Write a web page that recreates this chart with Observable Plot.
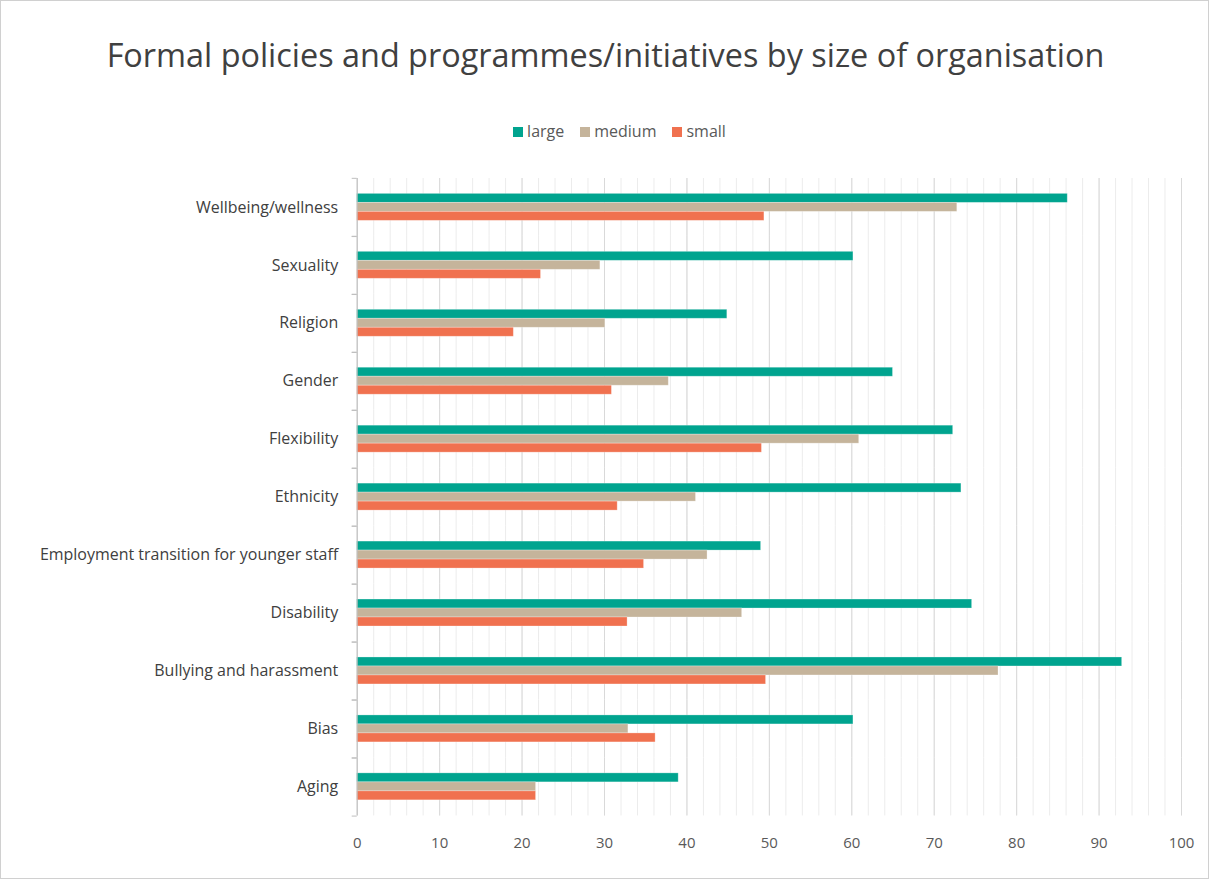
<!DOCTYPE html>
<html>
<head>
<meta charset="utf-8">
<script src="https://cdn.jsdelivr.net/npm/d3@7"></script>
<script src="https://cdn.jsdelivr.net/npm/@observablehq/plot@0.6"></script>
<style>
  html, body { margin: 0; padding: 0; background: #fff; }
  #wrap { position: relative; width: 1207px; height: 877px; border: 1px solid #d0d0d0; overflow: hidden; font-family: "Open Sans", sans-serif; }
  #title { position: absolute; left: 0; width: 1209px; top: 31px; text-align: center; font-size: 32.4px; line-height: 44px; color: #404040; }
  #legend { position: absolute; left: 14px; width: 1209px; top: 119px; text-align: center; font-size: 16px; line-height: 22px; color: #595959; }
  #legend span.item { margin: 0 8px; }
  #legend span.sw { display: inline-block; width: 10px; height: 10px; margin-right: 4px; vertical-align: 0px; }
  #chart { position: absolute; left: -1px; top: 159px; }
</style>
</head>
<body>
<div id="wrap">
  <div id="title">Formal policies and programmes/initiatives by size of organisation</div>
  <div id="legend"></div>
  <div id="chart"></div>
</div>
<script>
const categories = ["Wellbeing/wellness", "Sexuality", "Religion", "Gender", "Flexibility", "Ethnicity",
  "Employment transition for younger staff", "Disability", "Bullying and harassment", "Bias", "Aging"];
const seriesNames = ["large", "medium", "small"];
const seriesColors = ["#00a48f", "#c5b49b", "#f0714f"];
const largeValues  = [86.2, 60.2, 44.9, 65.0, 72.3, 73.3, 49.0, 74.6, 92.8, 60.2, 39.0];
const mediumValues = [72.8, 29.5, 30.1, 37.8, 60.9, 41.1, 42.5, 46.7, 77.8, 32.9, 21.7];
const smallValues  = [49.4, 22.3, 19.0, 30.9, 49.1, 31.6, 34.8, 32.8, 49.6, 36.2, 21.7];
const xTicks = [0, 10, 20, 30, 40, 50, 60, 70, 80, 90, 100];

const seriesValues = [largeValues, mediumValues, smallValues];
const data = [];
categories.forEach((c, i) => seriesNames.forEach((s, j) => data.push({category: c, size: s, value: seriesValues[j][i]})));

// legend
const legend = document.getElementById("legend");
seriesNames.forEach((s, j) => {
  const item = document.createElement("span");
  item.className = "item";
  item.innerHTML = `<span class="sw" style="background:${seriesColors[j]}"></span>${s}`;
  legend.appendChild(item);
});

const width = 1209, height = 720;
const marginTop = 16.6, marginBottom = 62.3, marginLeft = 357, marginRight = 27;
const step = (height - marginTop - marginBottom) / categories.length;

const chart = Plot.plot({
  width, height, marginTop, marginBottom, marginLeft, marginRight,
  style: {fontFamily: "Open Sans, sans-serif", color: "#595959", background: "transparent"},
  x: {domain: [0, 100], axis: null},
  fy: {domain: categories, padding: 0, axis: null},
  y: {domain: seriesNames, paddingInner: 0, paddingOuter: 1.42, axis: null},
  color: {domain: seriesNames, range: seriesColors},
  marks: [
    Plot.gridX(d3.range(0, 101, 2), {stroke: "#ececec", strokeOpacity: 1}),
    Plot.gridX(xTicks, {stroke: "#d9d9d9", strokeOpacity: 1}),
    Plot.barX(data, {fy: "category", y: "size", x: "value", fill: "size", stroke: "#ffffff", strokeOpacity: 0.35, strokeWidth: 0.8}),
    Plot.ruleX([0], {stroke: "#bfbfbf"}),
    Plot.axisFy({anchor: "left", tickSize: 5, stroke: "#bfbfbf", tickFormat: () => "", dy: step / 2, label: null}),
    Plot.axisFy({anchor: "left", tickSize: 5, stroke: "#bfbfbf", tickFormat: () => "", dy: -step / 2, label: null}),
    Plot.axisFy({anchor: "left", tickSize: 0, tickPadding: 19, fontSize: 16, fill: "#404040", label: null}),
    Plot.axisX(xTicks, {anchor: "bottom", tickSize: 0, tickPadding: 21, fontSize: 15, fill: "#595959", label: null})
  ]
});
document.getElementById("chart").appendChild(chart);
</script>
</body>
</html>
